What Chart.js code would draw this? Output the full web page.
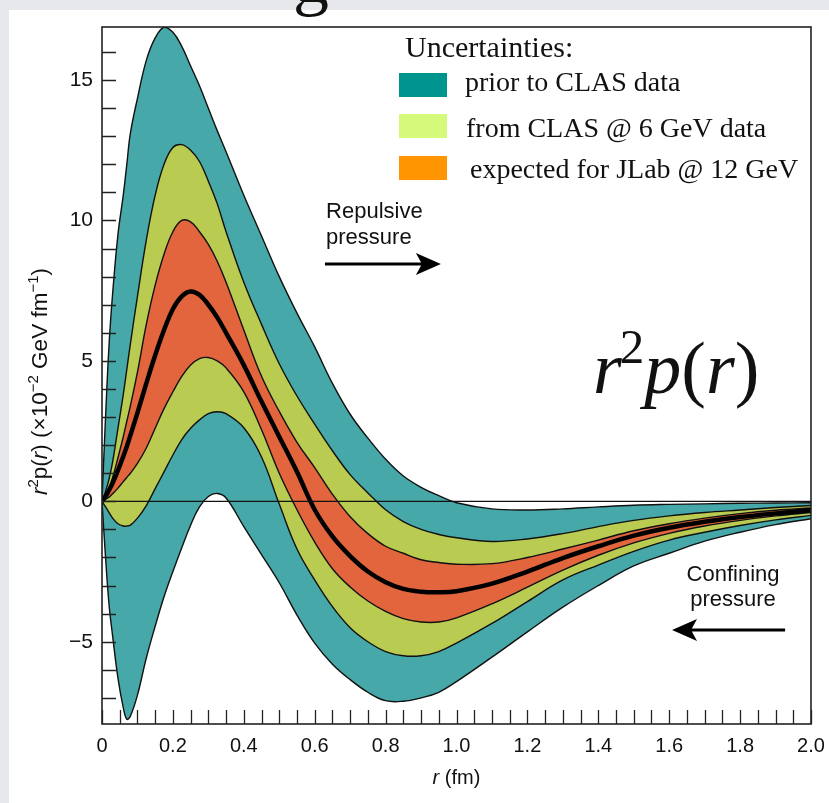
<!DOCTYPE html>
<html><head><meta charset="utf-8">
<script src="https://cdn.jsdelivr.net/npm/chart.js@4.4.0/dist/chart.umd.min.js"></script>
<style>html,body{margin:0;padding:0;background:#e6e8eb;}canvas{display:block;}</style>
</head><body>
<canvas id="c" width="829" height="803"></canvas>
<script>
// ---- data ----
const r = [0,0.01,0.02,0.03,0.045,0.06,0.07,0.08,
  0.1,0.125,0.15,0.175,0.2,0.225,0.25,0.275,0.3,0.325,0.35,
  0.4,0.45,0.5,0.55,0.6,0.65,0.7,0.75,0.8,0.85,0.9,0.95,1.0,
  1.1,1.2,1.3,1.4,1.5,1.6,1.7,1.8,1.9,2.0];
const tealUpper = [0,3.0,5.6,7.4,9.5,10.9,12.0,13.1,
  14.35,15.7,16.5,16.88,16.7,16.2,15.5,14.8,14.0,13.2,12.45,
  10.9,9.45,8.0,6.7,5.5,4.2,3.1,2.25,1.5,0.9,0.5,0.2,-0.05,
  -0.27,-0.31,-0.27,-0.2,-0.14,-0.11,-0.09,-0.07,-0.06,-0.05];
const greenUpper = [0,0.35,0.8,1.4,2.6,3.8,4.7,5.6,
  7.3,9.3,10.9,12.0,12.6,12.7,12.5,12.1,11.4,10.6,9.6,
  7.8,6.3,4.9,3.75,2.75,1.8,0.95,0.3,-0.3,-0.72,-1.0,-1.18,-1.3,
  -1.43,-1.34,-1.15,-0.9,-0.68,-0.52,-0.4,-0.31,-0.22,-0.15];
const orangeUpper = [0,0.2,0.5,0.85,1.55,2.3,2.85,3.4,
  4.6,6.3,7.7,8.8,9.6,10.0,9.95,9.6,9.15,8.55,7.8,
  6.1,4.45,3.2,2.1,1.2,0.25,-0.55,-1.15,-1.6,-1.85,-2.08,-2.18,-2.24,
  -2.22,-2.0,-1.7,-1.38,-1.05,-0.8,-0.6,-0.44,-0.32,-0.24];
const central = [0,0.17,0.4,0.65,1.1,1.6,1.95,2.35,
  3.15,4.2,5.2,6.1,6.85,7.3,7.47,7.35,7.0,6.55,6.0,
  4.85,3.55,2.3,1.05,-0.3,-1.25,-1.95,-2.5,-2.88,-3.12,-3.22,-3.24,-3.2,
  -2.93,-2.5,-2.02,-1.6,-1.22,-0.94,-0.73,-0.56,-0.43,-0.32];
const orangeLower = [0,0.07,0.15,0.27,0.47,0.7,0.85,1.0,
  1.35,1.9,2.6,3.3,3.9,4.45,4.85,5.08,5.12,5.0,4.75,
  3.9,2.55,1.0,-0.3,-1.45,-2.4,-3.05,-3.55,-3.92,-4.18,-4.3,-4.3,-4.15,
  -3.65,-3.06,-2.45,-1.92,-1.48,-1.14,-0.88,-0.68,-0.52,-0.4];
const greenLower = [0,-0.2,-0.4,-0.6,-0.8,-0.88,-0.88,-0.85,
  -0.6,-0.15,0.45,1.05,1.65,2.2,2.6,2.9,3.12,3.19,3.12,
  2.62,1.58,-0.1,-1.7,-2.8,-3.75,-4.5,-5.0,-5.35,-5.5,-5.5,-5.35,-5.05,
  -4.35,-3.57,-2.8,-2.27,-1.78,-1.38,-1.1,-0.86,-0.66,-0.5];
const tealLower = [0,-2.0,-3.7,-4.8,-6.3,-7.35,-7.76,-7.65,
  -6.9,-5.58,-4.45,-3.4,-2.5,-1.65,-0.85,-0.2,0.17,0.28,0.12,
  -0.9,-1.9,-2.9,-4.05,-5.05,-5.8,-6.35,-6.8,-7.1,-7.12,-7.0,-6.8,-6.42,
  -5.55,-4.65,-3.77,-3.0,-2.3,-1.85,-1.42,-1.1,-0.83,-0.62];
const seriesNames = ['prior to CLAS data','from CLAS @ 6 GeV data','expected for JLab @ 12 GeV'];
const legendTitle = 'Uncertainties:';
const xTickValues = [0,0.2,0.4,0.6,0.8,1.0,1.2,1.4,1.6,1.8,2.0];
const xTickLabels = ['0','0.2','0.4','0.6','0.8','1.0','1.2','1.4','1.6','1.8','2.0'];
const yTickValues = [-5,0,5,10,15];
const yTickLabels = ['\u22125','0','5','10','15'];

// ---- styles ----
const bandColors = ['rgb(70,168,168)','rgb(185,203,80)','rgb(226,101,62)'];
const swatchColors = ['#00948e','#d5f97b','#ff9500'];
const SANS = '"Liberation Sans", Arial, sans-serif';
const SERIF = '"Liberation Serif", "Times New Roman", serif';
const INK = '#111';

const pts = ys => r.map((x,i) => ({x, y: ys[i]}));
const ds = (data, o) => Object.assign({data: pts(data), borderColor:'#111', borderWidth:1.4, pointRadius:0,
  fill:false, tension:0.4}, o);

const datasets = [
  ds(tealUpper, {fill:1, backgroundColor:bandColors[0], order:3}),
  ds(tealLower, {order:3}),
  ds(greenUpper, {fill:3, backgroundColor:bandColors[1], order:2}),
  ds(greenLower, {order:2}),
  ds(orangeUpper, {fill:5, backgroundColor:bandColors[2], order:1}),
  ds(orangeLower, {order:1}),
  {data:[{x:r[0],y:0},{x:r[r.length-1],y:0}], borderColor:'#111', borderWidth:1.2, pointRadius:0, fill:false, order:0.5},
  ds(central, {borderColor:'#000', borderWidth:4.5, order:0})
];

function arrow(ctx, x1, y, x2){
  const dir = Math.sign(x2 - x1);
  ctx.save(); ctx.strokeStyle = '#000'; ctx.fillStyle = '#000'; ctx.lineWidth = 3;
  ctx.beginPath(); ctx.moveTo(x1, y); ctx.lineTo(x2 - dir*18, y); ctx.stroke();
  ctx.beginPath(); ctx.moveTo(x2, y); ctx.lineTo(x2 - dir*25, y - 11); ctx.lineTo(x2 - dir*19, y); ctx.lineTo(x2 - dir*25, y + 11); ctx.closePath(); ctx.fill();
  ctx.restore();
}
function rich(ctx, segs, x, y, align){
  let w = 0;
  segs.forEach(s => { ctx.font = s.f; s.w = ctx.measureText(s.t).width + (s.kern || 0); w += s.w; });
  let cx = align === 'center' ? x - w/2 : x;
  segs.forEach(s => { ctx.font = s.f; ctx.fillText(s.t, cx, y + (s.dy || 0)); cx += s.w; });
}

const decor = {
  id:'decor',
  beforeDraw(chart){
    const ctx = chart.ctx;
    ctx.save();
    ctx.fillStyle = '#e6e8eb'; ctx.fillRect(0,0,chart.width,chart.height);
    ctx.fillStyle = '#ffffff'; ctx.fillRect(9,10,chart.width-9,chart.height-10);
    ctx.restore();
  },
  afterDatasetsDraw(chart){
    const ctx = chart.ctx, a = chart.chartArea, xs = chart.scales.x, ys = chart.scales.y;
    ctx.save();
    ctx.strokeStyle = '#222'; ctx.lineWidth = 1.3;
    ctx.beginPath();
    xs.ticks.forEach(t => { const p = Math.round(xs.getPixelForValue(t.value)) + 0.5; ctx.moveTo(p, a.bottom); ctx.lineTo(p, a.bottom - 14); });
    ys.ticks.forEach(t => { const p = Math.round(ys.getPixelForValue(t.value)) + 0.5; ctx.moveTo(a.left, p); ctx.lineTo(a.left + 14, p); });
    ctx.stroke();
    ctx.lineWidth = 1.6;
    ctx.strokeRect(a.left, a.top, a.right - a.left, a.bottom - a.top);
    ctx.restore();
  },
  afterDraw(chart){
    const ctx = chart.ctx, xs = chart.scales.x, ys = chart.scales.y, a = chart.chartArea;
    const X = v => xs.getPixelForValue(v), Y = v => ys.getPixelForValue(v);
    ctx.save();
    ctx.fillStyle = INK; ctx.textBaseline = 'alphabetic';
    // title fragment at the top of the slide
    ctx.font = '72px ' + SERIF; ctx.textAlign = 'left';
    ctx.fillText('g', 293, 2);
    // legend
    ctx.font = '30px ' + SERIF;
    ctx.fillText(legendTitle, 405, 57);
    ctx.font = '28px ' + SERIF;
    const rowsY = [73, 114, 156], textX = [465, 466, 470], baseY = [91, 137, 178];
    seriesNames.forEach((n,i) => {
      ctx.fillStyle = swatchColors[i]; ctx.fillRect(399, rowsY[i], 48, 24);
      ctx.fillStyle = INK; ctx.fillText(n, textX[i], baseY[i]);
    });
    // annotations
    ctx.font = '22px ' + SANS; ctx.textAlign = 'left';
    ctx.fillText('Repulsive', X(0.632), Y(10.09));
    ctx.fillText('pressure', X(0.632), Y(9.17));
    arrow(ctx, X(0.629), Y(8.45), X(0.956));
    ctx.textAlign = 'center';
    ctx.fillText('Confining', X(1.78), Y(-2.84));
    ctx.fillText('pressure', X(1.78), Y(-3.73));
    arrow(ctx, X(1.927), Y(-4.58), X(1.608));
    ctx.textAlign = 'left';
    const big = 74;
    rich(ctx, [
      {t:'r', f:'italic '+big+'px '+SERIF, kern:-2},
      {t:'2', f:Math.round(big*0.66)+'px '+SERIF, dy:-big*0.4},
      {t:'p', f:'italic '+big+'px '+SERIF},
      {t:'(', f:big+'px '+SERIF},
      {t:'r', f:'italic '+big+'px '+SERIF},
      {t:')', f:big+'px '+SERIF}
    ], X(1.385), Y(3.86), 'left');
    // x axis title
    rich(ctx, [
      {t:'r', f:'italic 20px '+SANS},
      {t:' (fm)', f:'20px '+SANS}
    ], (a.left + a.right)/2, 784, 'center');
    // y axis title
    ctx.translate(47, (a.top + a.bottom)/2 + 6);
    ctx.rotate(-Math.PI/2);
    const f = 22.5, sf = 15;
    rich(ctx, [
      {t:'r', f:'italic '+f+'px '+SANS},
      {t:'2', f:sf+'px '+SANS, dy:-9},
      {t:'p(', f:f+'px '+SANS},
      {t:'r', f:'italic '+f+'px '+SANS},
      {t:') (\u00d710', f:f+'px '+SANS},
      {t:'\u22122', f:sf+'px '+SANS, dy:-9},
      {t:' GeV fm', f:f+'px '+SANS},
      {t:'\u22121', f:sf+'px '+SANS, dy:-9},
      {t:')', f:f+'px '+SANS}
    ], 0, 0, 'center');
    ctx.restore();
  }
};

new Chart(document.getElementById('c'), {
  type:'line',
  data:{datasets},
  options:{
    responsive:false, animation:false, devicePixelRatio:1,
    layout:{padding:{left:9, top:27, right:18, bottom:0}},
    plugins:{legend:{display:false}, tooltip:{enabled:false}, filler:{drawTime:'beforeDatasetsDraw'}},
    scales:{
      x:{type:'linear', min:0, max:2,
        grid:{display:false, drawTicks:false}, border:{display:false},
        ticks:{stepSize:0.05, autoSkip:false, maxRotation:0, padding:10, color:INK,
          font:{family:SANS, size:20},
          callback:v => { const i = xTickValues.findIndex(t => Math.abs(t - v) < 1e-6); return i >= 0 ? xTickLabels[i] : ''; }},
        afterFit:s => { s.height = 79; s.paddingLeft = 0; s.paddingRight = 0; }
      },
      y:{type:'linear', min:-7.93, max:16.89,
        grid:{display:false, drawTicks:false}, border:{display:false},
        ticks:{stepSize:1, includeBounds:false, autoSkip:false, padding:9, color:INK,
          font:{family:SANS, size:21},
          callback:v => { const i = yTickValues.findIndex(t => Math.abs(t - v) < 1e-6); return i >= 0 ? yTickLabels[i] : ''; }},
        afterFit:s => { s.width = 93; s.paddingTop = 0; s.paddingBottom = 0; }
      }
    }
  },
  plugins:[decor]
});
</script>
</body></html>
